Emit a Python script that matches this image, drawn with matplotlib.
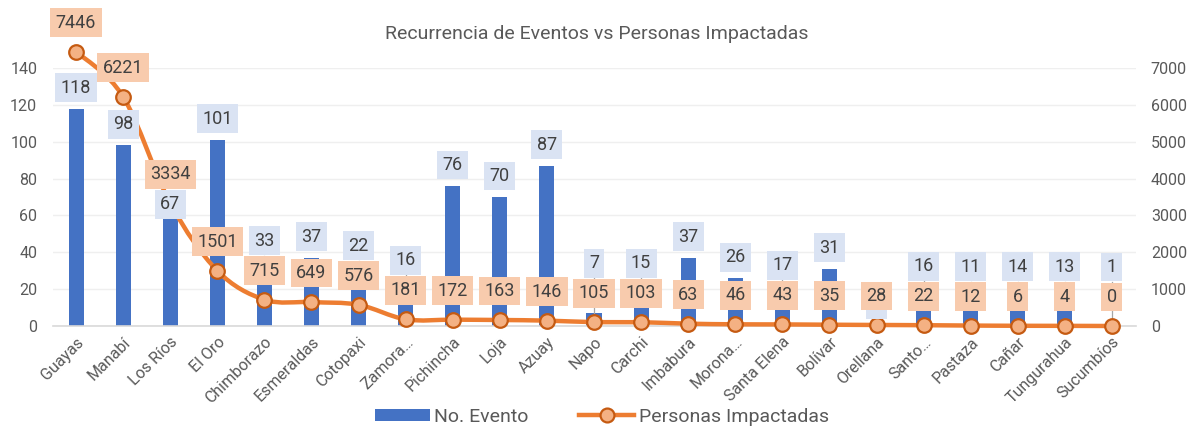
import numpy as np
import matplotlib.pyplot as plt
from matplotlib.path import Path
from matplotlib.patches import PathPatch
from matplotlib.lines import Line2D

plt.rcParams['font.family'] = ['Roboto', 'DejaVu Sans']

# data
provincias = ['Guayas', 'Manabí', 'Los Ríos', 'El Oro', 'Chimborazo', 'Esmeraldas',
              'Cotopaxi', 'Zamora…', 'Pichincha', 'Loja', 'Azuay', 'Napo', 'Carchi',
              'Imbabura', 'Morona…', 'Santa Elena', 'Bolívar', 'Orellana', 'Santo…',
              'Pastaza', 'Cañar', 'Tungurahua', 'Sucumbíos']
eventos = [118, 98, 67, 101, 33, 37, 22, 16, 76, 70, 87, 7, 15, 37, 26, 17, 31, 0,
           16, 11, 14, 13, 1]
personas = [7446, 6221, 3334, 1501, 715, 649, 576, 181, 172, 163, 146, 105, 103, 63,
            46, 43, 35, 28, 22, 12, 6, 4, 0]
left_ticks = [0, 20, 40, 60, 80, 100, 120, 140]
right_ticks = [0, 1000, 2000, 3000, 4000, 5000, 6000, 7000]

blue = '#4472C4'
orange = '#ED7D31'
marker_face = '#F4B183'
marker_edge = '#C55A11'
blue_box = '#DAE3F3'
orange_box = '#F8CBAD'
grey_txt = '#595959'
lbl_txt = '#404040'

W, H, DPI = 1193, 430, 100
fig = plt.figure(figsize=(W / DPI, H / DPI), dpi=DPI)
fig.set_facecolor('white')
ax_h_px = 258
ax1 = fig.add_axes([52.5 / W, 104 / H, 1083 / W, ax_h_px / H])
ax2 = ax1.twinx()

x = np.arange(len(provincias))

# bars
bars = ax1.bar(x, eventos, width=0.32, color=blue, zorder=2)
ax1.set_xlim(-0.5, len(provincias) - 0.5)
ax1.set_ylim(0, 140)
ax2.set_ylim(0, 7000)

# smooth line (bezier, excel style)
pts = np.column_stack([x, personas]).astype(float)
n = len(pts)
verts = [pts[0]]
codes = [Path.MOVETO]
for i in range(n - 1):
    p0 = pts[max(i - 1, 0)]
    p1 = pts[i]
    p2 = pts[i + 1]
    p3 = pts[min(i + 2, n - 1)]
    verts += [p1 + (p2 - p0) / 6, p2 - (p3 - p1) / 6, p2]
    codes += [Path.CURVE4] * 3
ax2.add_patch(PathPatch(Path(verts, codes), fc='none', ec=orange, lw=3.2,
                        capstyle='round', joinstyle='round', zorder=3, clip_on=False))
ax2.plot(x, personas, ls='none', marker='o', ms=10.5, mfc=marker_face, mec=marker_edge,
         mew=1.6, zorder=4, clip_on=False)

# data labels (pixel offsets up from the x axis)
k1 = ax_h_px / 140
k2 = ax_h_px / 7000
box_h = 30
for i in x:
    top_px = eventos[i] * k1
    o_px = personas[i] * k2 + 29
    b_px = top_px + 21
    moved = False
    if abs(b_px - o_px) < box_h:
        if b_px < o_px and o_px - box_h - box_h / 2 > 0:
            b_px = o_px - box_h          # room below the orange label
            moved = True
        elif b_px >= o_px or eventos[i] > 0:
            b_px = o_px + box_h          # lift above the orange label
            moved = True
    if moved and b_px - box_h / 2 > top_px + 2:
        ax2.plot([i, i], [eventos[i] * 50, (b_px - box_h / 2) / k2], color='#A6A6A6',
                 lw=0.9, zorder=2.5, clip_on=False)
    ax2.annotate(str(eventos[i]), xy=(i, 0), xytext=(0, b_px * 72 / DPI),
                 textcoords='offset points', ha='center', va='center', fontsize=13,
                 color=lbl_txt, zorder=5, annotation_clip=False,
                 bbox=dict(boxstyle='square,pad=0.3', fc=blue_box, ec='none'))
    ax2.annotate(str(personas[i]), xy=(i, 0), xytext=(0, o_px * 72 / DPI),
                 textcoords='offset points', ha='center', va='center', fontsize=13,
                 color=lbl_txt, zorder=6, annotation_clip=False,
                 bbox=dict(boxstyle='square,pad=0.3', fc=orange_box, ec='none'))

# axes style
ax1.set_yticks(left_ticks)
ax2.set_yticks(right_ticks)
ax1.grid(axis='y', color='#EFEFEF', lw=1, zorder=0)
ax1.set_axisbelow(True)
for a in (ax1, ax2):
    for s in a.spines.values():
        s.set_visible(False)
ax1.spines['bottom'].set_visible(True)
ax1.spines['bottom'].set_color('#D9D9D9')
ax1.spines['bottom'].set_linewidth(1.2)
ax1.tick_params(axis='y', length=0, pad=11, labelsize=11.5, labelcolor=grey_txt)
ax2.tick_params(axis='y', length=0, pad=11, labelsize=11.5, labelcolor=grey_txt)
ax1.set_xticks(x)
ax1.set_xticklabels(provincias, rotation=45, ha='right', rotation_mode='anchor')
ax1.tick_params(axis='x', length=0, pad=6, labelsize=11.5, labelcolor=grey_txt)

fig.text(0.5, 1 - 34 / H, 'Recurrencia de Eventos vs Personas Impactadas', ha='center',
         va='center', fontsize=14, color=grey_txt)

line_handle = Line2D([], [], color=orange, lw=3.2, marker='o', ms=10, mfc=marker_face,
                     mec=marker_edge, mew=1.6)
fig.legend([bars, line_handle], ['No. Evento', 'Personas Impactadas'],
           loc='center', bbox_to_anchor=(602 / W, 1 - 417 / H), ncol=2, frameon=False,
           fontsize=14, labelcolor=grey_txt, handlelength=2.8, handletextpad=0.25,
           columnspacing=2.6, handleheight=0.6)

fig.savefig('out.png', dpi=DPI)
